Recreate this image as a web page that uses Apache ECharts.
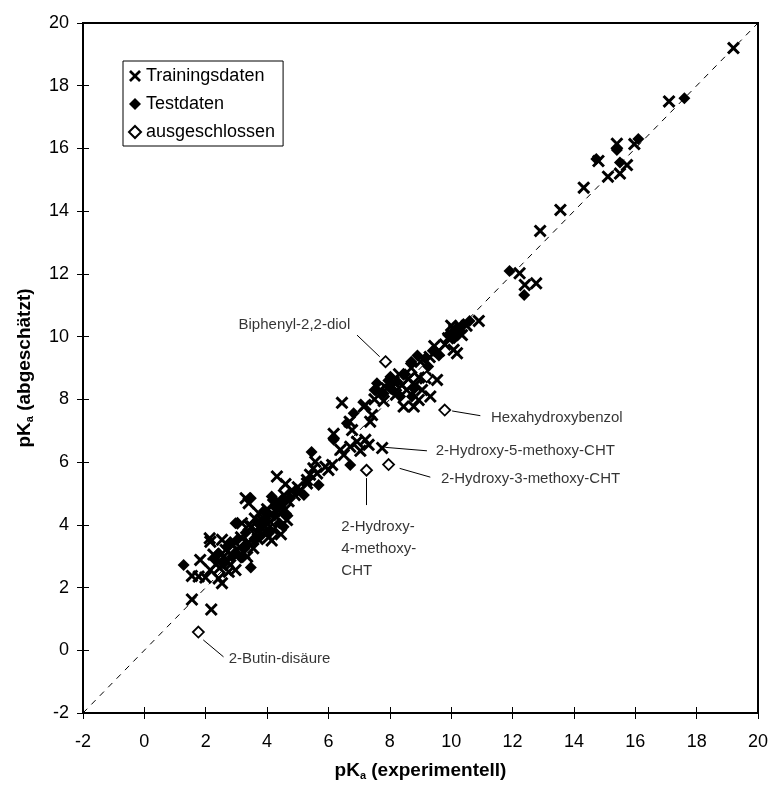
<!DOCTYPE html>
<html>
<head>
<meta charset="utf-8">
<script src="https://cdn.jsdelivr.net/npm/echarts@6.0.0/dist/echarts.min.js"></script>
<style>
  html, body { margin: 0; padding: 0; background: #fff; }
  #chart { width: 774px; height: 790px; }
</style>
</head>
<body>
<div id="chart"></div>
<script>
// pKa experimentell (x) gegen pKa abgeschätzt (y)

var trainingsdaten = [
  [1.55, 1.62], [2.18, 1.3], [1.55, 2.37], [1.77, 2.35], [1.99, 2.32], [2.42, 2.29], [2.53, 2.14],
  [1.82, 2.88], [2.15, 2.56], [2.75, 2.5], [2.97, 2.56], [2.8, 2.72], [3.35, 2.98], [3.02, 3.2],
  [2.13, 3.57], [2.15, 3.46], [2.53, 3.52], [2.25, 3.05], [2.6, 3.0], [2.9, 3.35], [3.15, 3.6],
  [3.4, 3.45], [3.6, 3.7], [3.18, 4.05], [3.4, 3.99], [3.73, 4.37], [3.84, 4.15], [3.3, 4.85],
  [3.4, 4.69], [3.55, 3.25], [3.7, 3.55], [3.95, 3.75], [4.05, 3.6], [4.2, 3.85], [4.1, 4.1],
  [4.3, 4.25], [4.45, 4.4], [3.9, 4.0], [4.0, 4.5], [4.2, 4.65], [4.35, 4.8], [4.6, 4.5],
  [4.55, 4.95], [4.7, 4.75], [4.32, 5.54], [4.9, 4.95], [5.1, 5.1], [5.3, 5.32], [5.63, 5.64],
  [6.0, 5.75], [5.0, 5.2], [4.8, 5.1], [3.85, 3.9], [4.65, 4.15], [2.45, 2.62], [2.7, 2.85],
  [3.25, 3.1], [4.45, 3.7], [4.15, 3.5], [3.5, 3.95], [3.6, 4.2], [3.75, 3.95], [4.0, 3.85],
  [4.25, 4.45], [4.4, 4.6], [2.35, 2.75], [3.1, 3.3], [2.65, 3.2], [5.4, 5.6], [4.6, 5.3],
  [5.57, 6.01], [5.3, 5.43], [5.51, 5.8], [5.9, 5.85], [6.12, 5.91], [6.5, 6.23], [6.39, 6.39],
  [6.71, 6.49], [7.04, 6.36], [7.31, 6.55], [7.2, 6.71], [6.93, 6.65], [6.17, 6.9], [6.77, 7.02],
  [6.69, 7.29], [7.36, 7.29], [7.2, 7.82], [6.44, 7.89], [7.75, 6.45], [7.15, 7.77], [7.42, 7.5],
  [7.69, 8.3], [8.12, 8.56], [8.45, 7.77], [8.78, 7.77], [8.94, 7.98], [9.05, 8.3], [8.83, 8.46],
  [9.16, 8.67], [9.54, 8.62], [9.32, 8.09], [7.9, 8.35], [8.3, 8.8], [8.6, 8.65], [8.7, 9.0],
  [9.0, 9.2], [9.3, 9.35], [9.6, 9.55], [10.08, 9.58], [10.19, 9.47], [9.8, 9.75], [9.45, 9.7],
  [10.1, 10.2], [10.3, 10.3], [10.0, 10.35], [10.5, 10.35], [10.9, 10.5], [10.35, 10.05],
  [9.9, 9.95], [8.55, 8.3], [8.2, 8.15], [7.5, 8.0], [7.8, 7.95], [8.4, 8.45], [8.95, 8.7],
  [12.23, 12.02], [12.4, 11.65], [12.77, 11.7], [12.9, 13.37], [13.56, 14.04], [14.32, 14.75],
  [14.8, 15.6], [15.4, 16.15], [15.97, 16.14], [15.73, 15.47], [15.11, 15.1], [15.5, 15.2],
  [17.1, 17.5], [19.2, 19.2]
];

var testdaten = [
  [1.28, 2.72], [3.47, 2.64], [3.47, 4.85], [2.69, 3.3], [2.42, 3.09], [3.29, 3.3], [2.31, 2.88],
  [2.58, 2.77], [2.86, 2.98], [2.97, 4.05], [4.54, 3.94], [4.25, 4.3], [4.4, 4.05], [4.1, 3.8],
  [3.8, 3.65], [3.6, 3.5], [3.95, 4.2], [4.35, 4.55], [4.5, 4.75], [4.15, 4.9], [4.6, 4.3],
  [3.05, 3.55], [2.8, 3.45], [3.3, 3.75], [5.68, 5.27], [5.45, 6.32], [4.95, 5.05], [5.2, 4.95],
  [4.75, 4.85], [3.7, 4.05], [4.3, 4.7], [3.9, 4.45], [4.05, 4.35], [2.95, 3.1], [3.15, 2.95],
  [6.17, 6.71], [6.71, 5.91], [6.82, 7.56], [6.6, 7.24], [7.58, 8.51], [7.8, 8.19], [8.02, 8.72],
  [8.34, 8.09], [8.72, 8.09], [7.5, 8.3], [8.25, 8.55], [8.0, 8.45], [8.7, 9.2], [8.9, 9.4],
  [9.15, 9.3], [9.4, 9.55], [9.6, 9.4], [8.8, 8.35], [10.0, 10.1], [10.2, 10.3], [10.4, 10.4],
  [10.6, 10.5], [10.25, 10.15], [10.1, 9.95], [9.9, 10.05], [8.5, 8.8], [9.25, 9.05],
  [8.1, 8.3], [7.95, 8.6],
  [11.9, 12.09], [12.38, 11.33], [14.73, 15.66], [15.4, 15.95], [16.1, 16.3], [15.5, 15.55],
  [17.6, 17.6]
];

var ausgeschlossen = [
  [7.86, 9.2], [9.79, 7.66], [7.96, 5.92], [7.24, 5.74], [1.76, 0.58], [9.2, 8.72]
];

// Winkelhalbierende y = x
var diagonale = [[-2, -2], [20, 20]];

// Beschriftungen: Linie von -> bis, Textanker, Text, Lage
var beschriftungen = [
  { von: [7.67, 9.36], bis: [6.93, 10.05], text: [4.89, 10.37], name: 'Biphenyl-2,2-diol', lage: 'inside' },
  { von: [10.03, 7.63], bis: [10.95, 7.48], text: [11.28, 7.41], name: 'Hexahydroxybenzol', lage: 'right' },
  { von: [7.85, 6.47], bis: [9.21, 6.36], text: [9.48, 6.36], name: '2-Hydroxy-5-methoxy-CHT', lage: 'right' },
  { von: [8.32, 5.8], bis: [9.32, 5.52], text: [9.65, 5.46], name: '2-Hydroxy-3-methoxy-CHT', lage: 'right' },
  { von: [7.23, 5.49], bis: [7.23, 4.63], text: [6.42, 4.31], name: '2-Hydroxy-\n4-methoxy-\nCHT', lage: 'bottom' },
  { von: [1.92, 0.33], bis: [2.58, -0.21], text: [2.73, -0.28], name: '2-Butin-disäure', lage: 'right' }
];

var FONT = '"Liberation Sans", Arial, sans-serif';
var KREUZ = 'path://M0,1.6L1.6,0L5,3.4L8.4,0L10,1.6L6.6,5L10,8.4L8.4,10L5,6.6L1.6,10L0,8.4L3.4,5Z';

var chart = echarts.init(document.getElementById('chart'));

function achse(pos, nameText, gap) {
  return [{
    type: 'value', min: -2, max: 20, interval: 2, position: pos,
    name: nameText, nameLocation: 'middle', nameGap: gap,
    nameTextStyle: {
      color: '#000', fontFamily: FONT, fontSize: 19, fontWeight: 'bold',
      rich: {
        b: { color: '#000', fontFamily: FONT, fontSize: 19, fontWeight: 'bold' },
        s: { color: '#000', fontFamily: FONT, fontSize: 11, fontWeight: 'bold', padding: [9, 0, 0, 0] }
      }
    },
    axisLine: { show: true, onZero: false, lineStyle: { color: '#000', width: 2 } },
    axisTick: { show: true, inside: false, length: 6, lineStyle: { color: '#000', width: 1 } },
    axisLabel: { color: '#000', fontFamily: FONT, fontSize: 18, margin: pos === 'bottom' ? 20 : 14 },
    splitLine: { show: false }
  }, {
    // zweite Achse nur fuer die nach innen zeigenden Teilstriche
    type: 'value', min: -2, max: 20, interval: 2, position: pos,
    axisLine: { show: false, onZero: false },
    axisTick: { show: true, inside: true, length: 6, lineStyle: { color: '#000', width: 1 } },
    axisLabel: { show: false },
    splitLine: { show: false }
  }];
}

var option = {
  backgroundColor: '#fff',
  animation: false,
  grid: {
    left: 83, right: 16, top: 23, bottom: 77,
    show: true, borderColor: '#000', borderWidth: 2, backgroundColor: 'transparent'
  },
  legend: {
    orient: 'vertical',
    left: 123, top: 61,
    backgroundColor: '#fff',
    borderColor: '#000', borderWidth: 1, borderRadius: 0,
    padding: [5, 8, 4, 5],
    itemGap: 8, itemWidth: 12, itemHeight: 12,
    textStyle: { color: '#000', fontFamily: FONT, fontSize: 18, lineHeight: 20 },
    data: [
      { name: 'Trainingsdaten', icon: KREUZ },
      { name: 'Testdaten', icon: 'diamond' },
      { name: 'ausgeschlossen', icon: 'diamond' }
    ]
  },
  xAxis: achse('bottom', '{b|pK}{s|a}{b| (experimentell)}', 48),
  yAxis: achse('left', '{b|pK}{s|a}{b| (abgeschätzt)}', 48),
  series: [
    {
      name: 'diagonale', type: 'line', data: diagonale, symbol: 'none', silent: true,
      lineStyle: { color: '#000', width: 1, type: [6, 6] }, z: 1
    },
    {
      name: 'Trainingsdaten', type: 'scatter', data: trainingsdaten,
      symbol: KREUZ, symbolSize: 13,
      itemStyle: { color: '#000', opacity: 1 }, z: 2
    },
    {
      name: 'Testdaten', type: 'scatter', data: testdaten,
      symbol: 'diamond', symbolSize: 12,
      itemStyle: { color: '#000', opacity: 1 }, z: 3
    },
    {
      name: 'ausgeschlossen', type: 'scatter', data: ausgeschlossen,
      symbol: 'diamond', symbolSize: 11,
      itemStyle: { color: '#fff', borderColor: '#000', borderWidth: 1.8, opacity: 1 }, z: 4,
      markLine: {
        silent: true, symbol: ['none', 'none'],
        lineStyle: { color: '#000', width: 1, type: 'solid' },
        label: { show: false },
        data: beschriftungen.map(function (b) {
          return [{ coord: b.von }, { coord: b.bis }];
        })
      }
    },
    {
      name: 'beschriftung', type: 'scatter', silent: true, symbolSize: 1,
      itemStyle: { color: 'rgba(0,0,0,0)' }, z: 5,
      label: {
        show: true, color: '#000', fontFamily: FONT, fontSize: 15, lineHeight: 22,
        distance: 0,
        formatter: function (p) { return p.name; }
      },
      data: beschriftungen.map(function (b) {
        return {
          name: b.name, value: b.text,
          label: { position: b.lage, align: b.lage === 'inside' ? 'center' : 'left' }
        };
      })
    }
  ]
};

chart.setOption(option);
</script>
</body>
</html>
